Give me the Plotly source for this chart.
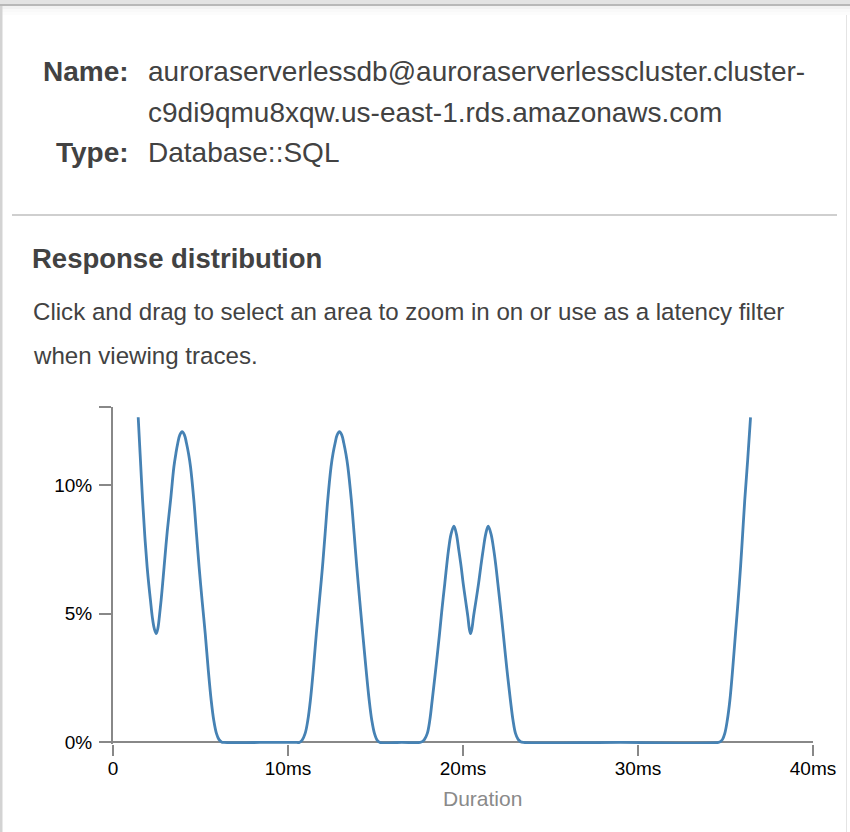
import plotly.graph_objects as go

# ---- data (duration in ms, share of requests in %) ----
duration_ms = [
    1.44, 1.55, 1.69, 1.82, 1.95, 2.05, 2.14, 2.25, 2.36, 2.47, 2.57, 2.66, 2.75,
    2.84, 2.92, 3.10, 3.29, 3.48, 3.60, 3.70, 3.82, 3.95, 4.08, 4.20, 4.32, 4.43,
    4.62, 4.77, 4.92, 5.10, 5.27, 5.44, 5.61, 5.76, 5.91, 6.05, 6.20, 6.35,
    8.40, 10.50,
    10.65, 10.80, 10.98, 11.13, 11.28, 11.45, 11.62, 11.80, 11.97, 12.12, 12.27,
    12.46, 12.58, 12.69, 12.81, 12.94, 13.07, 13.19, 13.31, 13.42, 13.62, 13.78,
    13.93, 14.10, 14.27, 14.46, 14.64, 14.79, 14.94, 15.10, 15.25,
    16.50, 17.55,
    17.67, 17.80, 17.96, 18.10, 18.24, 18.45, 18.66, 18.81, 18.96, 19.17, 19.32,
    19.48, 19.62, 19.76, 19.89, 20.01, 20.15, 20.28, 20.36, 20.43, 20.51, 20.60,
    20.74, 20.89, 21.02, 21.15, 21.30, 21.44, 21.60, 21.76, 21.88, 21.99, 22.15,
    22.30, 22.50, 22.71, 22.86, 23.00, 23.15, 23.29, 23.45,
    29.00, 34.60,
    34.71, 34.83, 34.96, 35.10, 35.25, 35.41, 35.57, 35.72, 35.86, 35.98, 36.10,
    36.27, 36.43,
]
share_pct = [
    12.63, 11.20, 9.41, 8.00, 6.82, 6.10, 5.53, 4.85, 4.42, 4.23, 4.45, 4.95, 5.53,
    6.20, 6.82, 8.20, 9.41, 10.71, 11.25, 11.62, 11.95, 12.07, 11.95, 11.62, 11.20, 10.71,
    9.41, 8.10, 6.82, 5.45, 4.23, 2.85, 1.64, 0.85, 0.35, 0.12, 0.02, 0.00,
    0.00, 0.00,
    0.00, 0.08, 0.35, 0.85, 1.64, 2.85, 4.23, 5.55, 6.82, 8.10, 9.41,
    10.71, 11.25, 11.62, 11.95, 12.07, 11.95, 11.62, 11.20, 10.71, 9.41, 8.10,
    6.82, 5.50, 4.23, 2.85, 1.64, 0.85, 0.35, 0.08, 0.00,
    0.00, 0.00,
    0.03, 0.12, 0.35, 0.85, 1.64, 2.90, 4.23, 5.25, 6.18, 7.47, 8.10,
    8.40, 8.10, 7.47, 6.85, 6.18, 5.50, 4.88, 4.42, 4.23, 4.42, 4.88,
    5.50, 6.18, 6.85, 7.47, 8.10, 8.40, 8.10, 7.47, 6.85, 6.18, 5.20,
    4.23, 2.90, 1.64, 0.85, 0.35, 0.12, 0.03, 0.00,
    0.00, 0.00,
    0.03, 0.12, 0.35, 0.85, 1.64, 2.85, 4.23, 5.50, 6.82, 8.10, 9.41,
    11.00, 12.63,
]

x_tick_vals = [0, 10, 20, 30, 40]
x_tick_text = ["0", "10ms", "20ms", "30ms", "40ms"]
y_tick_vals = [0, 5, 10, 13.03]
y_tick_text = ["0%", "5%", "10%", ""]

name_label = "Name:"
name_lines = ["auroraserverlessdb@auroraserverlesscluster.cluster-",
              "c9di9qmu8xqw.us-east-1.rds.amazonaws.com"]
type_label = "Type:"
type_value = "Database::SQL"
section_title = "Response distribution"
help_lines = ["Click and drag to select an area to zoom in on or use as a latency filter",
              "when viewing traces."]
x_title = "Duration"

# ---- layout geometry (pixels) ----
W, H = 850, 832
ML, MR, MT, MB = 113, 37, 407, 88
PW, PH = W - ML - MR, H - MT - MB
FONT = "Liberation Sans, Arial, Helvetica, sans-serif"
TXT = "#424242"


def px(x):
    return (x - ML) / PW


def py(y):
    return (H - MB - y) / PH


fig = go.Figure()
fig.add_trace(go.Scatter(
    x=duration_ms, y=share_pct, mode="lines",
    line=dict(color="#4682b4", width=2.8, shape="spline", smoothing=1.0),
    hoverinfo="skip", showlegend=False,
))

shapes = []


def rect(x0, y0, x1, y1, color):
    shapes.append(dict(type="rect", xref="paper", yref="paper",
                       x0=px(x0), x1=px(x1), y0=py(y1), y1=py(y0),
                       fillcolor=color, line=dict(width=0), layer="below"))


rect(0, 0, W, 4, "#e3e3e3")
rect(0, 4, W, 6, "#b8b8b8")
rect(0, 6, W, 9, "rgba(0,0,0,0.05)")
rect(0, 9, W, 12, "rgba(0,0,0,0.025)")
rect(0, 12, W, 15, "rgba(0,0,0,0.01)")
rect(0, 6, 2.5, H, "#d3d3d3")
rect(846, 15, 847, H, "#e4e4e4")
rect(12, 214, 837, 216, "#cfcfcf")

annotations = []


def text(x, y, s, size, anchor="left", color=TXT, bold=False):
    annotations.append(dict(
        xref="paper", yref="paper", x=px(x), y=py(y),
        xanchor=anchor, yanchor="middle", showarrow=False,
        text=("<b>%s</b>" % s) if bold else s,
        font=dict(family=FONT, size=size, color=color),
    ))


text(131, 71, name_label, 28, anchor="right", bold=True)
text(146, 71, name_lines[0], 28)
text(146, 112, name_lines[1], 28)
text(131, 153, type_label, 28, anchor="right", bold=True)
text(146, 153, type_value, 28)
text(30, 258, section_title, 27.5, bold=True)
text(31, 311, help_lines[0], 24.1)
text(31, 355, help_lines[1], 24.1)
text(482, 798, x_title, 21, anchor="center", color="#8a8a8a")

fig.update_layout(
    width=W, height=H,
    margin=dict(l=ML, r=MR, t=MT, b=MB, pad=0),
    paper_bgcolor="white", plot_bgcolor="white",
    shapes=shapes, annotations=annotations,
    xaxis=dict(
        range=[0, 40], tickvals=x_tick_vals, ticktext=x_tick_text,
        showgrid=False, zeroline=False, showline=False,
        ticks="outside", ticklen=11, tickwidth=2, tickcolor="#888",
        tickfont=dict(family=FONT, size=19, color="#000"),
        ticklabelstandoff=-4, fixedrange=True,
    ),
    yaxis=dict(
        range=[-0.06, 13.03], tickvals=y_tick_vals, ticktext=y_tick_text,
        showgrid=False, zeroline=True, zerolinecolor="#888", zerolinewidth=2,
        showline=True, linecolor="#888", linewidth=2,
        ticks="outside", ticklen=12, tickwidth=2, tickcolor="#888",
        tickfont=dict(family=FONT, size=19, color="#000"),
        ticklabelstandoff=3, fixedrange=True,
    ),
)

fig.write_html("out.html", config={"displayModeBar": False})
